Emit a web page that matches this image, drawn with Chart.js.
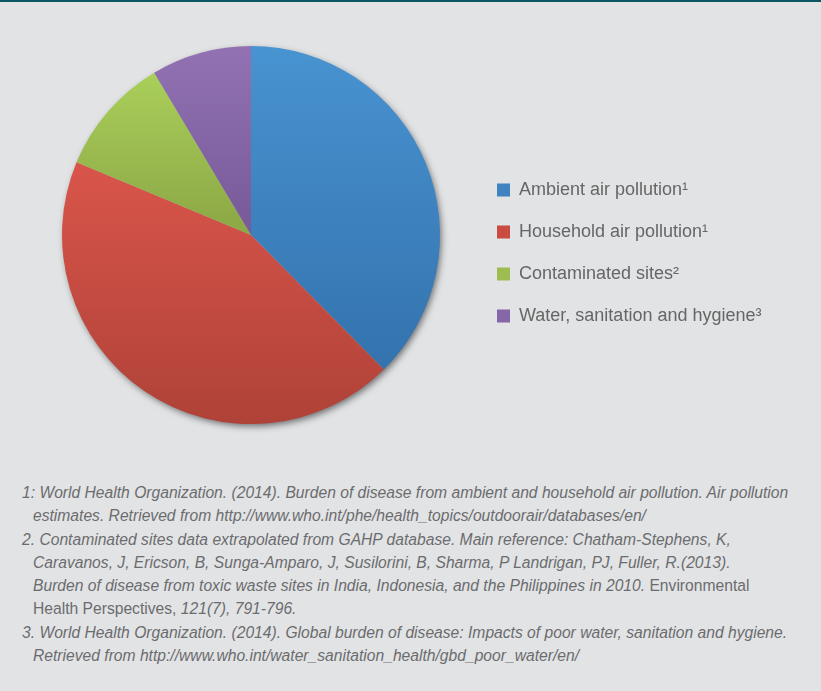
<!DOCTYPE html>
<html>
<head>
<meta charset="utf-8">
<script src="https://cdn.jsdelivr.net/npm/chart.js@4/dist/chart.umd.min.js"></script>
<style>
  html, body { margin: 0; padding: 0; }
  body {
    width: 821px; height: 691px; overflow: hidden; position: relative;
    background: #e2e3e5;
    border-top: 2px solid #0c5661; box-sizing: border-box;
  }
  #wrap { position: absolute; left: 0; top: -2px; width: 821px; height: 460px; }
  #notes {
    position: absolute; left: 22px; top: 479px; width: 795px;
    font-family: 'Liberation Sans', Arial, sans-serif;
    font-size: 15.65px; line-height: 23.3px; color: #6b6c6e;
    font-style: italic; white-space: nowrap;
  }
  #notes .in { padding-left: 11px; }
  #notes .up { font-style: normal; }
</style>
</head>
<body>
<div id="wrap"><canvas id="pie" width="821" height="460"></canvas></div>
<div id="notes">
  <div>1: World Health Organization. (2014). Burden of disease from ambient and household air pollution. Air pollution</div>
  <div class="in">estimates. Retrieved from http://www.who.int/phe/health_topics/outdoorair/databases/en/</div>
  <div>2. Contaminated sites data extrapolated from GAHP database. Main reference: Chatham-Stephens, K,</div>
  <div class="in">Caravanos, J, Ericson, B, Sunga-Amparo, J, Susilorini, B, Sharma, P Landrigan, PJ, Fuller, R.(2013).</div>
  <div class="in">Burden of disease from toxic waste sites in India, Indonesia, and the Philippines in 2010.<span class="up"> Environmental</span></div>
  <div class="in"><span class="up">Health Perspectives, </span>121(7), 791-796.</div>
  <div>3. World Health Organization. (2014). Global burden of disease: Impacts of poor water, sanitation and hygiene.</div>
  <div class="in">Retrieved from http://www.who.int/water_sanitation_health/gbd_poor_water/en/</div>
</div>
<script>
// deaths per year, millions
const categories = ['Ambient air pollution¹', 'Household air pollution¹', 'Contaminated sites²', 'Water, sanitation and hygiene³'];
const deaths = [3.7, 4.3, 1.0, 0.842];

// [top colour, bottom colour, top stop, bottom stop] for each slice's shading
const shades = [
  ['#4893d1', '#3372ad', 0.0, 0.87],
  ['#da554b', '#af4238', 0.30, 1.0],
  ['#aacf5a', '#8eaa47', 0.07, 0.46],
  ['#9272b3', '#795a9a', 0.0, 0.46]
];
const flat = ['#3f83c0', '#c94b41', '#9dbd51', '#8566a6'];

const legendFont = { family: "'Liberation Sans', Arial, sans-serif", size: 18 };
const legendPad = 24;
const boxW = 13;

function shade(ctx) {
  const area = ctx.chart.chartArea;
  const s = shades[ctx.dataIndex];
  if (!area) return s[0];
  const g = ctx.chart.ctx.createLinearGradient(0, area.top, 0, area.bottom);
  g.addColorStop(s[2], s[0]);
  g.addColorStop(s[3], s[1]);
  return g;
}

// legend width, so the pie can sit left of it at a fixed place
const mctx = document.createElement('canvas').getContext('2d');
mctx.font = legendFont.size + 'px ' + legendFont.family;
const textW = Math.max(...categories.map(t => mctx.measureText(t).width));
const legendW = legendPad + boxW + legendFont.size / 2 + textW + 10;

const pieShadow = {
  id: 'pieShadow',
  beforeDatasetsDraw(chart) {
    const arc = chart.getDatasetMeta(0).data[0];
    if (!arc) return;
    const { x, y, outerRadius } = arc.getProps(['x', 'y', 'outerRadius'], true);
    const c = chart.ctx;
    c.save();
    c.shadowColor = 'rgba(0,0,0,0.55)';
    c.shadowBlur = 7;
    c.shadowOffsetX = 2;
    c.shadowOffsetY = 3;
    c.fillStyle = '#b0b0b0';
    c.beginPath();
    c.arc(x, y, outerRadius - 1, 0, Math.PI * 2);
    c.fill();
    c.restore();
  }
};

new Chart(document.getElementById('pie'), {
  type: 'pie',
  data: {
    labels: categories,
    datasets: [{
      data: deaths,
      backgroundColor: shade,
      borderWidth: 0,
      hoverOffset: 0
    }]
  },
  options: {
    responsive: false,
    animation: false,
    events: [],
    layout: { padding: { left: 29, top: 46, bottom: 36, right: 821 - 473 - legendW } },
    plugins: {
      tooltip: { enabled: false },
      legend: {
        position: 'right',
        title: { display: true, text: ' ', font: { size: 10 }, padding: 12 },
        labels: {
          font: legendFont,
          color: '#55565a',
          boxWidth: boxW,
          boxHeight: boxW,
          padding: legendPad,
          generateLabels(chart) {
            return categories.map((t, i) => ({
              text: t, fillStyle: flat[i], strokeStyle: flat[i], lineWidth: 0, index: i, hidden: false
            }));
          }
        }
      }
    }
  },
  plugins: [pieShadow]
});
</script>
</body>
</html>
